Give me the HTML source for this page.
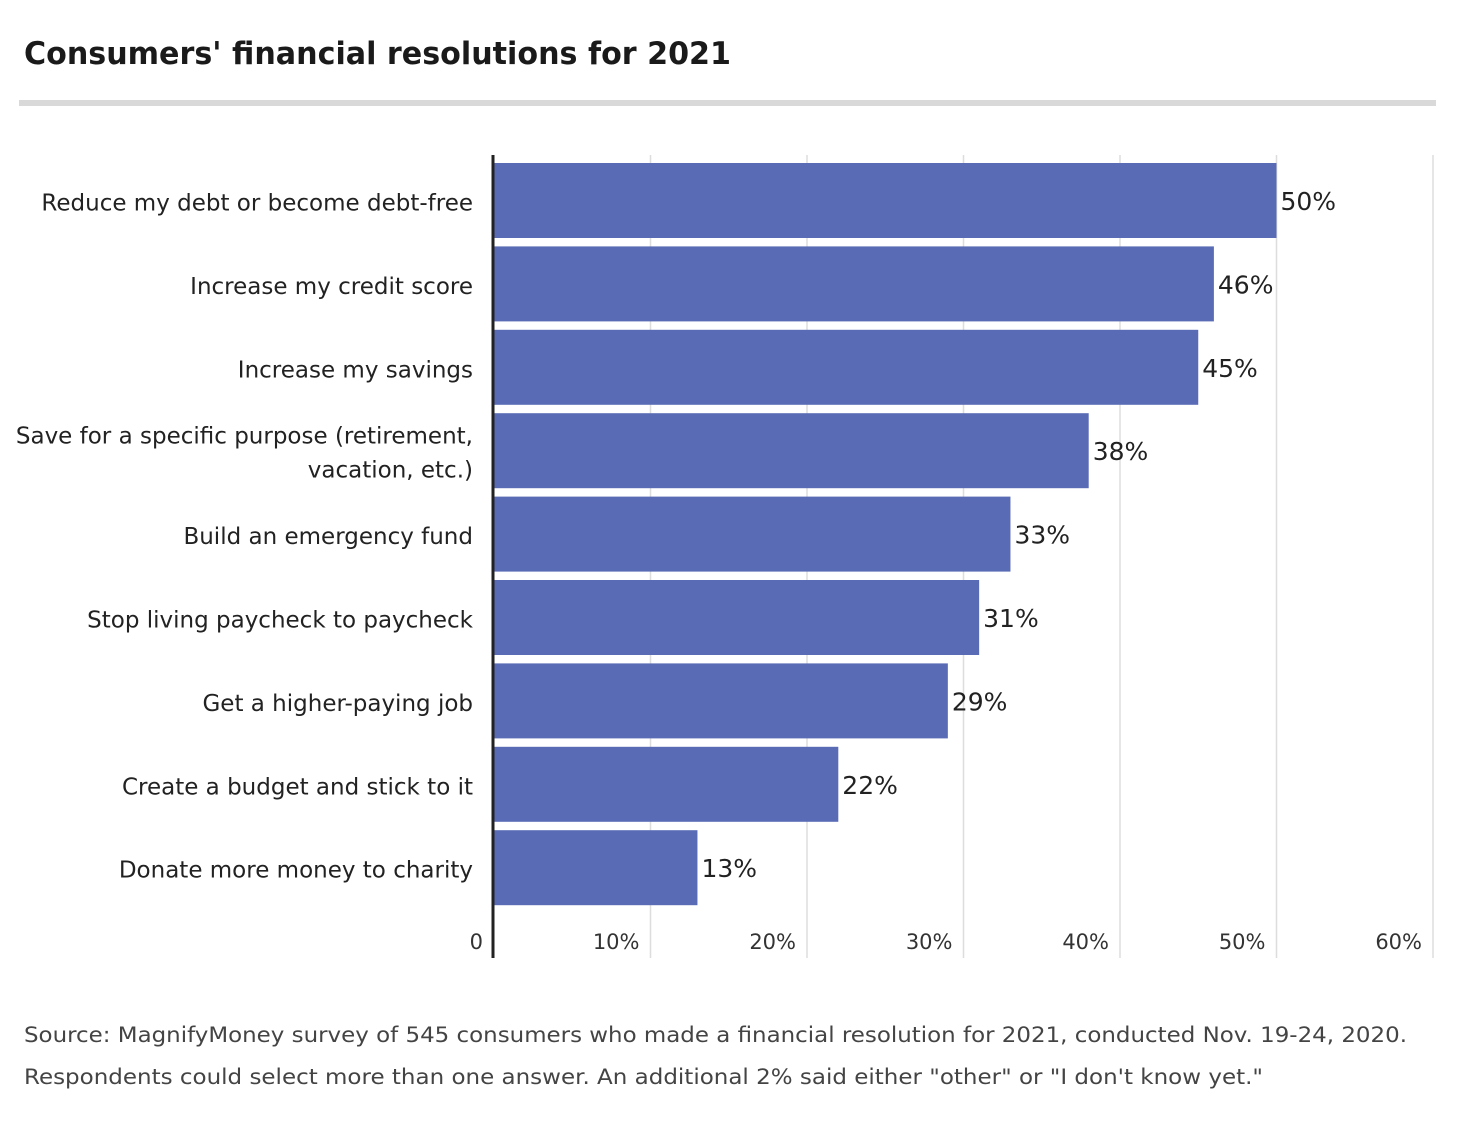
<!DOCTYPE html>
<html><head><meta charset="utf-8"><style>
body{margin:0;background:#fff;width:1473px;height:1118px;overflow:hidden;font-family:"DejaVu Sans","Liberation Sans",sans-serif}
svg text{font-family:"DejaVu Sans","Liberation Sans",sans-serif}
</style></head><body>
<svg id="chart" width="1473" height="1118">
<text x="24" y="64" font-size="31" font-weight="bold" fill="#1a1a1a" textLength="707" lengthAdjust="spacingAndGlyphs">Consumers' financial resolutions for 2021</text>
<rect x="19" y="100" width="1417" height="6" fill="#d9d9d9"/>
<g id="grid"></g><g id="bars"></g>
<line x1="493" y1="155" x2="493" y2="958" stroke="#222" stroke-width="3"/>
<text x="24" y="1042" font-size="21" fill="#444" textLength="1383" lengthAdjust="spacingAndGlyphs">Source: MagnifyMoney survey of 545 consumers who made a financial resolution for 2021, conducted Nov. 19-24, 2020.</text>
<text x="24" y="1084" font-size="21" fill="#444" textLength="1239" lengthAdjust="spacingAndGlyphs">Respondents could select more than one answer. An additional 2% said either "other" or "I don't know yet."</text>
</svg>
<script>
const categories=[["Reduce my debt or become debt-free"],["Increase my credit score"],["Increase my savings"],["Save for a specific purpose (retirement,","vacation, etc.)"],["Build an emergency fund"],["Stop living paycheck to paycheck"],["Get a higher-paying job"],["Create a budget and stick to it"],["Donate more money to charity"]];
const values=[50,46,45,38,33,31,29,22,13];
const ticks=[0,10,20,30,40,50,60];
const tickLabels=["0","10%","20%","30%","40%","50%","60%"];
const NS="http://www.w3.org/2000/svg";
const x0=494,pxPer=15.65,top0=163,pitch=83.4,bh=75;
const xs=v=>x0+v*pxPer;
const g=document.getElementById('grid'),b=document.getElementById('bars');
function mk(t,a,p){const e=document.createElementNS(NS,t);for(const k in a)e.setAttribute(k,a[k]);p.appendChild(e);return e;}
ticks.forEach((t,i)=>{
 if(t>0){const l=mk('line',{x1:xs(t),x2:xs(t),y1:155,y2:958,stroke:'#ddd','stroke-width':1.5},g);
 
 }
 const tx=mk('text',{x:t==0?483:xs(t)-11,y:949,'font-size':21,fill:'#333','text-anchor':'end'},g);
 tx.textContent=tickLabels[i];
 
 
});
values.forEach((v,i)=>{
 const y=top0+i*pitch;
 const r=mk('rect',{x:x0,y:y,width:xs(v)-x0,height:bh,fill:'#5a6bb5'},b);
 
 
 const vl=mk('text',{x:xs(v)+4,y:y+47,'font-size':25,fill:'#222'},b);
 vl.textContent=v+'%';
 
 
 const lines=categories[i];
 lines.forEach((s,j)=>{
  const cy=y+bh/2+10+(lines.length==2?(j==0?-17:17):0);
  const ct=mk('text',{x:473,y:cy,'font-size':23,fill:'#222','text-anchor':'end'},b);
  ct.textContent=s;
  
  
 });
});
</script>
</body></html>
